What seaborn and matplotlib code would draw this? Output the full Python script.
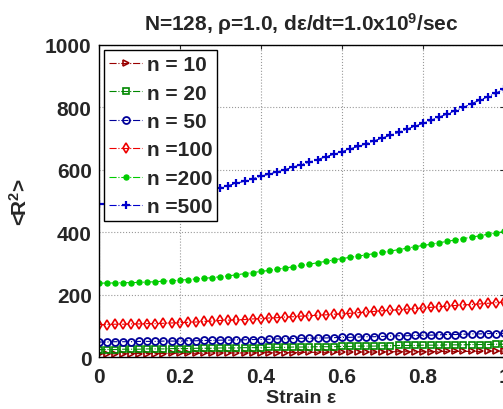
import numpy as np
import pandas as pd
import matplotlib
matplotlib.use('Agg')
import matplotlib.pyplot as plt
import seaborn as sns

# strain sampled every 0.02
strain = np.round(np.arange(51) * 0.02, 2)

r2_n10 = [11, 11, 11, 11, 12, 12, 12, 12, 12, 13, 13, 13, 13, 13, 14, 14, 14, 14, 14, 14,
          15, 15, 15, 15, 15, 16, 16, 16, 16, 16, 17, 17, 17, 17, 17, 17, 18, 18, 18, 18,
          18, 18, 19, 19, 19, 19, 19, 19, 20, 20, 20]
r2_n20 = [25, 25, 25, 26, 26, 26, 27, 27, 27, 28, 28, 28, 29, 29, 29, 30, 30, 30, 31, 31,
          31, 32, 32, 32, 33, 33, 33, 34, 34, 34, 35, 35, 36, 36, 36, 37, 37, 38, 38, 38,
          39, 39, 39, 40, 40, 40, 41, 41, 41, 42, 42]
r2_n50 = [49, 49, 50, 50, 50, 51, 51, 51, 52, 52, 52, 53, 53, 54, 54, 55, 55, 56, 56, 57,
          57, 58, 59, 59, 60, 61, 61, 62, 62, 63, 64, 64, 65, 66, 66, 67, 68, 69, 69, 70,
          71, 71, 72, 73, 73, 74, 75, 75, 76, 76, 77]
r2_n100 = [105, 105, 106, 106, 107, 107, 108, 108, 109, 110, 111, 112, 113, 115, 116, 118,
           119, 120, 121, 123, 124, 126, 127, 129, 130, 132, 133, 135, 136, 138, 139, 141,
           143, 145, 147, 149, 151, 152, 154, 156, 158, 160, 162, 164, 166, 168, 169, 171,
           173, 175, 177]
r2_n200 = [237, 238, 238, 239, 239, 240, 241, 242, 244, 245, 247, 249, 251, 253, 255, 258,
           261, 264, 268, 271, 275, 278, 282, 286, 290, 294, 298, 303, 307, 312, 316, 320,
           324, 328, 332, 336, 340, 345, 349, 354, 358, 362, 367, 371, 376, 380, 385, 389,
           394, 398, 403]
r2_n500 = [490, 492, 494, 497, 499, 502, 505, 508, 511, 514, 518, 522, 527, 532, 537, 543,
           550, 557, 564, 571, 580, 586, 594, 601, 609, 617, 625, 633, 642, 650, 658, 667,
           675, 684, 693, 702, 711, 720, 730, 740, 749, 759, 769, 779, 790, 800, 812, 823,
           834, 846, 858]

labels = ['n = 10', 'n = 20', 'n = 50', 'n =100', 'n =200', 'n =500']
series = [r2_n10, r2_n20, r2_n50, r2_n100, r2_n200, r2_n500]
colors = ['#990000', '#008800', '#000099', '#ee0000', '#00cc00', '#0000cc']
markers = ['>', 's', 'o', 'd', 'o', '+']
filled = [False, False, False, False, True, True]
msizes = [5, 4.5, 5, 5.5, 3.6, 6]
mews = [1.2, 1.2, 1.3, 1.2, 1.0, 1.6]

sns.set_style('white')
plt.rcParams['font.family'] = ['Liberation Sans', 'DejaVu Sans']
plt.rcParams['font.weight'] = 'bold'
plt.rcParams['mathtext.fontset'] = 'custom'
plt.rcParams['mathtext.rm'] = 'Liberation Sans:bold'
plt.rcParams['mathtext.it'] = 'Liberation Sans:bold'
plt.rcParams['mathtext.bf'] = 'Liberation Sans:bold'

fig = plt.figure(figsize=(5.03, 4.10), dpi=100)
ax = fig.add_axes([0.196, 0.126, 0.806, 0.762])

for vals, lab, c, m, f, ms, mew in zip(series, labels, colors, markers, filled, msizes, mews):
    df = pd.DataFrame({'strain': strain, 'r2': vals})
    sns.lineplot(data=df, x='strain', y='r2', ax=ax, color=c, marker=m, markersize=ms,
                 markeredgecolor=c, markerfacecolor=c if f else 'none',
                 markeredgewidth=mew, linestyle='-.', linewidth=0.8, label=lab)

ax.set_xlim(0, 1)
ax.set_ylim(0, 1000)
ax.set_xticks([0, 0.2, 0.4, 0.6, 0.8, 1.0])
ax.set_xticklabels(['0', '0.2', '0.4', '0.6', '0.8', '1'])
ax.set_yticks([0, 200, 400, 600, 800, 1000])
ax.tick_params(direction='in', length=3, width=0.8, top=True, right=True,
               labelsize=15, pad=5)
ax.tick_params(axis='x', pad=7)
for lbl in ax.get_xticklabels() + ax.get_yticklabels():
    lbl.set_fontweight('bold')
ax.grid(True, linestyle=':', color='#999999', linewidth=0.8)
for sp in ax.spines.values():
    sp.set_color('black')
    sp.set_linewidth(1.0)

ax.set_xlabel('Strain ε', fontsize=14, fontweight='bold', labelpad=2)
ax.set_ylabel('<R$^{2}$>', fontsize=15, fontweight='bold', labelpad=10)
ax.set_title('N=128, ρ=1.0, dε/dt=1.0x10$^{9}$/sec', fontsize=15, fontweight='bold', pad=11)

leg = ax.legend(loc='upper left', fontsize=15, frameon=True, fancybox=False,
                framealpha=1, edgecolor='black', borderaxespad=0.25, borderpad=0.25,
                labelspacing=0.45, handlelength=1.6, handletextpad=0.2)
leg.get_frame().set_linewidth(1.0)
for t in leg.get_texts():
    t.set_fontweight('bold')

fig.savefig('out.png', dpi=100)
